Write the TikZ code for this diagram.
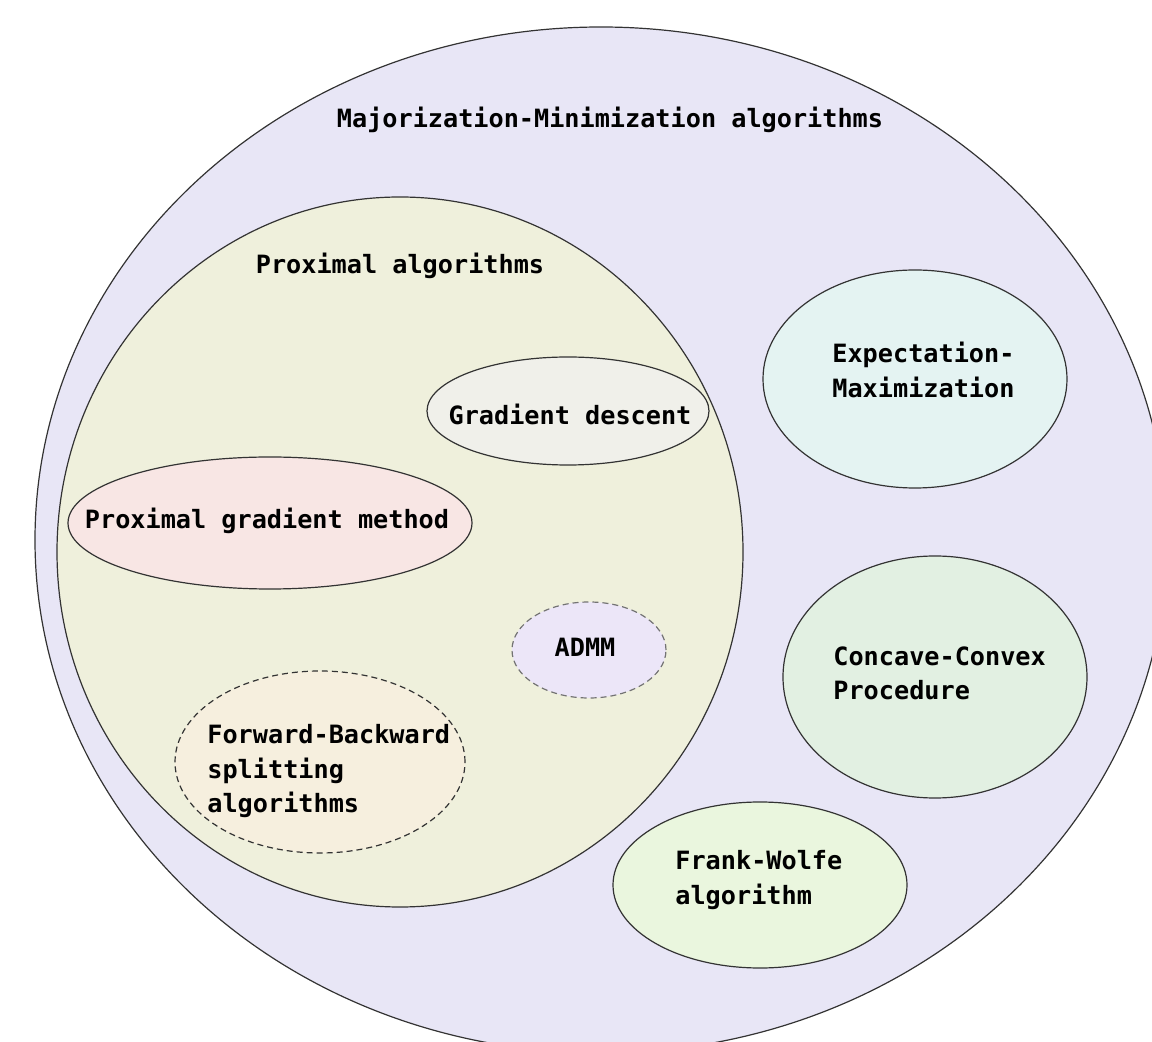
\documentclass[tikz,border=0pt]{standalone}
\usepackage{fontspec}
\newfontfamily\lblfont{DejaVu Sans Mono}
\usetikzlibrary{shapes.geometric}
\definecolor{cOuter}{HTML}{E8E6F6}
\definecolor{cProx}{HTML}{EFF0DC}
\definecolor{cGD}{HTML}{F0F0EA}
\definecolor{cPGM}{HTML}{F8E6E4}
\definecolor{cADMM}{HTML}{ECE6F8}
\definecolor{cFB}{HTML}{F6EFDE}
\definecolor{cEM}{HTML}{E4F3F2}
\definecolor{cCCCP}{HTML}{E2F0E2}
\definecolor{cFW}{HTML}{EAF6DE}
\begin{document}
\begin{tikzpicture}[x=0.5pt,y=-0.5pt,
  blob/.style={ellipse, draw=black!80, line width=0.6pt, inner sep=0pt},
  dashblob/.style={blob, dash pattern=on 3pt off 2pt},
  lbl/.style={inner sep=0pt, text=black, font=\lblfont\bfseries\fontsize{12.6pt}{17.25pt}\selectfont},
  ml/.style={lbl, align=left, anchor=north west}]
\useasboundingbox (0,0) rectangle (1152,1042);
\clip (0,0) rectangle (1152,1042);
\node[blob, fill=cOuter, minimum width=566pt, minimum height=513pt] (mm) at (601,540) {};
\node[blob, fill=cProx, minimum width=343pt, minimum height=355pt] (prox) at (400,552) {};
\node[blob, fill=cGD, minimum width=141pt, minimum height=54pt] (gd) at (568,411) {};
\node[blob, fill=cPGM, minimum width=202pt, minimum height=66pt] (pgm) at (270,523) {};
\node[dashblob, draw=black!55, fill=cADMM, minimum width=77pt, minimum height=48pt] (admm) at (589,650) {};
\node[dashblob, fill=cFB, minimum width=145pt, minimum height=91pt] (fb) at (320,762) {};
\node[blob, fill=cEM, minimum width=152pt, minimum height=109pt] (em) at (915,379) {};
\node[blob, fill=cCCCP, minimum width=152pt, minimum height=121pt] (cccp) at (935,677) {};
\node[blob, fill=cFW, minimum width=147pt, minimum height=83pt] (fw) at (760,885) {};

\node[lbl, anchor=base] (mmt) at (610,128) {Majorization-Minimization algorithms};
\node[lbl, anchor=base] (proxt) at (400,274) {Proximal algorithms};
\node[lbl, anchor=base] (gdt) at (570,425) {Gradient descent};
\node[lbl, anchor=base] (pgmt) at (267,529) {Proximal gradient method};
\node[lbl, anchor=base] (admmt) at (585,657) {ADMM};
\node[ml] (fbt) at (207,724) {Forward-Backward\\splitting\\algorithms};
\node[ml] (emt) at (832,342) {Expectation-\\Maximization};
\node[ml] (cccpt) at (833,646) {Concave-Convex\\Procedure};
\node[ml] (fwt) at (675,850) {Frank-Wolfe\\algorithm};
\end{tikzpicture}
\end{document}
